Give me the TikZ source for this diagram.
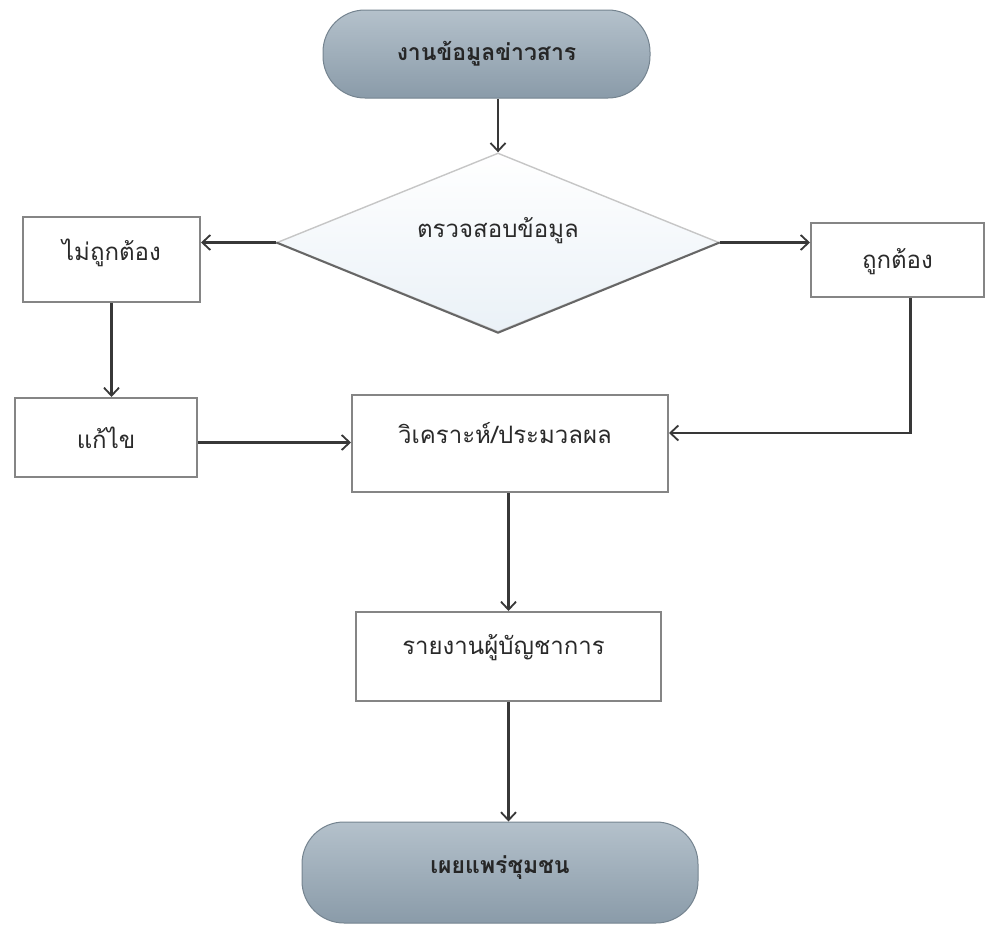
\documentclass[tikz,border=0pt]{standalone}
\usepackage{fontspec}
\newfontfamily\thaifont[Script=Thai]{Loma}
\usetikzlibrary{shapes.geometric,arrows.meta,positioning}
\definecolor{linec}{HTML}{383838}
\definecolor{boxline}{HTML}{858585}
\definecolor{termtop}{HTML}{B4C1CB}
\definecolor{termbot}{HTML}{8A9BA9}
\definecolor{txt}{HTML}{2A2A2A}
\definecolor{diabot}{HTML}{EAF1F7}
\tikzset{
  every node/.style={font=\thaifont\fontsize{24}{27}\selectfont, text=txt},
  boldtxt/.style={font=\thaifont\bfseries\fontsize{23}{27}\selectfont, text=black!85},
  procbox/.style={draw=boxline, line width=2pt, fill=white, inner sep=0pt},
  termbox/.style={draw=termbot!85!black, line width=1pt, rounded corners=42pt,
     top color=termtop, bottom color=termbot, inner sep=0pt},
  decbox/.style={diamond, draw=gray!45, line width=1.4pt, top color=white,
     bottom color=diabot, inner sep=0pt, aspect=2.47},
  decshade/.style={draw=gray!80!black, line width=2pt},
  conn/.style={draw=linec, line width=2.2pt, -{Straight Barb[length=8pt,width=15pt,line width=1.8pt]}}
}
\begin{document}
\begin{tikzpicture}[x=1pt,y=1pt]
\useasboundingbox[fill=white] (0,0) rectangle (986,-926);
% nodes
\node[termbox, minimum width=327pt, minimum height=88pt] (top) at (486.5,-54) {};
\node[boldtxt] (toptxt) at (top.center) {งานข้อมูลข่าวสาร};
\node[decbox, minimum width=442pt, minimum height=179pt] (dia) at (498,-242.5) {};
\draw[decshade] (dia.west) -- (dia.south) -- (dia.east);
\node (diatxt) at ([yshift=12pt]dia.center) {ตรวจสอบข้อมูล};
\node[procbox, minimum width=177pt, minimum height=85pt] (nok) at (111.5,-259.5) {};
\node (noktxt) at ([yshift=7pt]nok.center) {ไม่ถูกต้อง};
\node[procbox, minimum width=173pt, minimum height=74pt] (ok) at (897.5,-260) {};
\node (oktxt) at ([yshift=-2pt]ok.center) {ถูกต้อง};
\node[procbox, minimum width=182pt, minimum height=79pt] (fix) at (106,-437.5) {};
\node (fixtxt) at (fix.center) {แก้ไข};
\node[procbox, minimum width=316pt, minimum height=97pt] (ana) at (510,-443.5) {};
\node (anatxt) at ([xshift=-5pt,yshift=10pt]ana.center) {วิเคราะห์/ประมวลผล};
\node[procbox, minimum width=305pt, minimum height=89pt] (rep) at (508.5,-656.5) {};
\node (reptxt) at ([xshift=-5pt,yshift=9pt]rep.center) {รายงานผู้บัญชาการ};
\node[termbox, minimum width=396pt, minimum height=101pt] (fin) at (500,-872.5) {};
\node[boldtxt] (fintxt) at ([yshift=5pt]fin.center) {เผยแพร่ชุมชน};
% connectors
\draw[conn] (top.south -| dia.north) -- (dia.north);
\draw[conn] (dia.west) -- (dia.west -| nok.east);
\draw[conn] (dia.east) -- (dia.east -| ok.west);
\draw[conn] (nok.south) -- (nok.south |- fix.north);
\draw[conn] ([yshift=-5pt]fix.east) -- ([yshift=-5pt]fix.east -| ana.west);
\draw[conn] ([xshift=13pt]ok.south) |- ([yshift=10.5pt]ana.east);
\draw[conn] (rep.north |- ana.south) -- (rep.north);
\draw[conn] (rep.south) -- (rep.south |- fin.north);
\end{tikzpicture}
\end{document}
